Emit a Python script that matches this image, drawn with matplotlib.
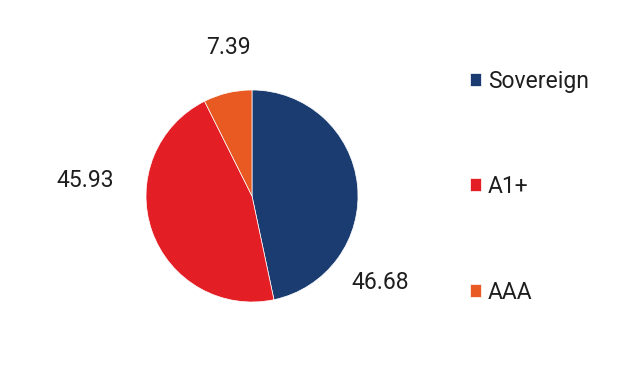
import matplotlib
matplotlib.use("Agg")
import matplotlib.pyplot as plt

plt.rcParams['font.family'] = ['Roboto', 'DejaVu Sans']

categories = ["Sovereign", "A1+", "AAA"]
values = [46.68, 45.93, 7.39]
colors = ["#1b3c71", "#e31e25", "#e95a23"]
# label positions in pie-radius units (as placed in the original)
label_xy = [(1.21, -0.82), (-1.57, 0.15), (-0.22, 1.40)]

fig = plt.figure(figsize=(6.4, 3.66), dpi=100)
ax = fig.add_axes([(252 - 106) / 640, (170 - 106) / 366, 212 / 640, 212 / 366])

wedges, _ = ax.pie(values, colors=colors, startangle=90, counterclock=False,
                   radius=1, wedgeprops=dict(linewidth=0.5, edgecolor="white"))
ax.set_xlim(-1, 1)
ax.set_ylim(-1, 1)
ax.set_aspect("equal")

for v, (x, y) in zip(values, label_xy):
    ax.text(x, y, f"{v:.2f}", ha="center", va="center", fontsize=16.5, color="#1e1e1e")

leg = fig.legend(wedges, categories, loc="upper left", bbox_to_anchor=(0.734, 0.81),
                 frameon=False, fontsize=16.5, handlelength=0.5, handleheight=0.5,
                 handletextpad=0.3, labelspacing=3.6, labelcolor="#1e1e1e",
                 borderaxespad=0, borderpad=0)

fig.savefig("out.png", dpi=100)
